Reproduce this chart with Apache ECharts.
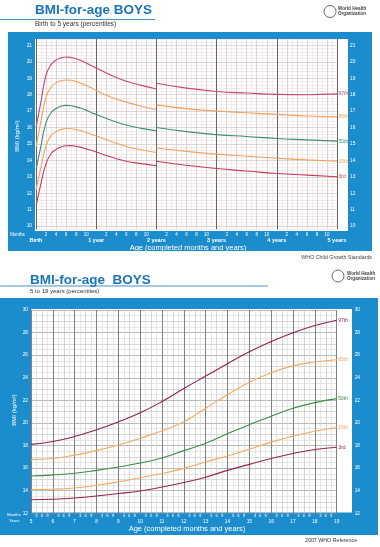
<!DOCTYPE html>
<html><head><meta charset="utf-8">
<script src="https://cdn.jsdelivr.net/npm/echarts@6/dist/echarts.min.js"></script>
<style>html,body{margin:0;padding:0;background:#fff}#c{width:380px;height:547px}</style>
</head><body><div id="c"></div>
<script>
// ---------- DATA: Birth to 5 years (months) ----------
const topMonthsLen = [0,1,2,3,4,5,6,7,8,9,10,11,12,15,18,21,24];
const topP3Len  = [11.2,12.6,13.8,14.4,14.67,14.82,14.89,14.9,14.86,14.79,14.7,14.61,14.51,14.2,13.95,13.8,13.67];
const topP15Len = [12.2,13.6,14.9,15.5,15.75,15.88,15.94,15.93,15.88,15.8,15.7,15.59,15.48,15.15,14.85,14.65,14.48];
const topP50Len = [13.4,14.9,16.3,16.9,17.16,17.3,17.35,17.33,17.26,17.17,17.05,16.92,16.8,16.45,16.15,15.95,15.8];
const topP85Len = [14.8,16.4,17.85,18.45,18.72,18.85,18.9,18.88,18.8,18.69,18.56,18.42,18.25,17.85,17.55,17.3,17.1];
const topP97Len = [16.0,17.6,19.2,19.83,20.11,20.25,20.3,20.27,20.19,20.07,19.93,19.78,19.63,19.18,18.82,18.57,18.35];

const topMonthsHt = [24,30,36,42,48,54,60];
const topP3Ht  = [13.95,13.7,13.5,13.35,13.2,13.1,13.0];
const topP15Ht = [14.75,14.55,14.38,14.25,14.13,14.03,13.95];
const topP50Ht = [16.0,15.75,15.57,15.45,15.33,15.25,15.17];
const topP85Ht = [17.38,17.15,17.0,16.9,16.8,16.7,16.65];
const topP97Ht = [18.7,18.4,18.2,18.1,18.02,18.0,18.05];

const topYearLabels = ['Birth','1 year','2 years','3 years','4 years','5 years'];

// ---------- DATA: 5 to 19 years ----------
const ages = [5,6,7,8,9,10,11,12,13,14,15,16,17,18,19];
const botP3  = [13.2,13.25,13.36,13.53,13.75,13.98,14.33,14.72,15.2,15.8,16.33,16.85,17.3,17.65,17.85];
const botP15 = [14.1,14.13,14.24,14.48,14.78,15.15,15.52,15.98,16.55,17.07,17.67,18.3,18.83,19.27,19.6];
const botP50 = [15.3,15.4,15.55,15.8,16.1,16.45,16.9,17.55,18.2,19.05,19.85,20.6,21.3,21.8,22.15];
const botP85 = [16.75,16.85,17.15,17.55,18.05,18.65,19.3,20.1,21.3,22.5,23.6,24.45,25.05,25.4,25.6];
const botP97 = [18.1,18.35,18.8,19.4,20.1,20.9,21.9,23.05,24.15,25.25,26.3,27.2,27.98,28.62,29.1];

const pctNames = ['3rd','15th','50th','85th','97th'];

// ---------- STYLE ----------
const BLUE = '#1c8dcc', TITLE = '#1b74bb';
const FONT = 'Liberation Sans, Arial, sans-serif';
const topColors = ['#c43c5a','#f2a25e','#3c9070','#f2a25e','#c8457c'];
const botColors = ['#9a2550','#f4aa62','#3b8b4a','#f4aa62','#8c2255'];

function pairs(xs, ys){ return xs.map((x,i)=>[x, ys[i]]); }
function mk(name, xs, ys, color, xi, yi, label){
  return {
    type:'line', name, xAxisIndex:xi, yAxisIndex:yi, data:pairs(xs,ys),
    smooth:0.5, showSymbol:false, symbol:'none',
    lineStyle:{color, width:1.1}, itemStyle:{color}, z:5, silent:true,
    endLabel:{show:!!label, formatter:name, color, fontSize:5, fontFamily:FONT, distance:1.5}
  };
}

const series = [];
const tLen = [topP3Len, topP15Len, topP50Len, topP85Len, topP97Len];
const tHt  = [topP3Ht, topP15Ht, topP50Ht, topP85Ht, topP97Ht];
const bot  = [botP3, botP15, botP50, botP85, botP97];
for (let k=0;k<5;k++){
  series.push(mk(pctNames[k], topMonthsLen, tLen[k], topColors[k], 0, 0, false));
  series.push(mk(pctNames[k], topMonthsHt, tHt[k], topColors[k], 0, 0, true));
  series.push(mk(pctNames[k], ages, bot[k], botColors[k], 1, 2, true));
}

const white = '#ffffff';
const isInt = v => Math.abs(v - Math.round(v)) < 0.01;

const option = {
  animation:false,
  backgroundColor:'#fff',
  textStyle:{fontFamily:FONT},
  grid:[
    {left:36, top:38.9, width:301, height:190.4},
    {left:31, top:310, width:305.7, height:203.3}
  ],
  xAxis:[
    { // 0 top months
      type:'value', gridIndex:0, min:0, max:60, interval:1,
      axisLine:{show:false}, axisTick:{show:false},
      splitLine:{show:true, lineStyle:{color:['#cbbcc0','#eddde1'], width:0.6}},
      axisLabel:{margin:2.5, color:white, fontSize:4.5, fontFamily:FONT,
        formatter:v=>{const m=Math.round(v)%12; return (m>0 && m%2===0)? String(m):'';}}
    },
    { // 1 bottom quarters
      type:'value', gridIndex:1, min:5, max:19, interval:0.25,
      axisLine:{show:false}, axisTick:{show:false},
      splitLine:{show:true, lineStyle:{color:['#8a8a8a','#d6d6d6','#c0c0c0','#d6d6d6'], width:0.6}},
      axisLabel:{margin:0.5, color:white, fontSize:4.2, fontFamily:FONT,
        formatter:v=>{const q=Math.round(v*4)%4; return q===1?'3':q===2?'6':q===3?'9':'';}}
    },
    { // 2 top years
      type:'value', gridIndex:0, min:0, max:60, interval:12, position:'bottom',
      axisLine:{show:false}, axisTick:{show:false},
      splitLine:{show:true, lineStyle:{color:'#666', width:1}},
      axisLabel:{margin:8, color:white, fontSize:5.5, fontWeight:'bold', fontFamily:FONT,
        formatter:v=>topYearLabels[Math.round(v/12)]||''}
    },
    { // 3 bottom years
      type:'value', gridIndex:1, min:5, max:19, interval:1, position:'bottom',
      axisLine:{show:false}, axisTick:{show:false},
      splitLine:{show:true, lineStyle:{color:'#7a7a7a', width:0.9}},
      axisLabel:{margin:5.5, color:white, fontSize:4.8, fontFamily:FONT,
        formatter:v=>String(Math.round(v))}
    }
  ],
  yAxis:[
    { // 0 top left
      type:'value', gridIndex:0, min:9.8, max:21.4, interval:0.2,
      axisLine:{show:false}, axisTick:{show:false},
      splitLine:{show:true, lineStyle:{color:['#eedfe2','#c8b8bc','#eedfe2','#eedfe2','#eedfe2'], width:0.6}},
      axisLabel:{margin:4, color:white, fontSize:4.8, fontFamily:FONT,
        formatter:v=> isInt(v)? String(Math.round(v)) : ''}
    },
    { // 1 top right
      type:'value', gridIndex:0, min:9.8, max:21.4, interval:0.2, position:'right',
      axisLine:{show:false}, axisTick:{show:false}, splitLine:{show:false},
      axisLabel:{margin:13, color:white, fontSize:4.8, fontFamily:FONT,
        formatter:v=> isInt(v)? String(Math.round(v)) : ''}
    },
    { // 2 bottom left
      type:'value', gridIndex:1, min:12, max:30, interval:0.5,
      axisLine:{show:false}, axisTick:{show:false},
      splitLine:{show:true, lineStyle:{color:['#8a8a8a','#d6d6d6','#c0c0c0','#d6d6d6'], width:0.6}},
      axisLabel:{margin:3, color:white, fontSize:4.8, fontFamily:FONT,
        formatter:v=> (isInt(v) && Math.round(v)%2===0)? String(Math.round(v)) : ''}
    },
    { // 3 bottom right
      type:'value', gridIndex:1, min:12, max:30, interval:2, position:'right',
      axisLine:{show:false}, axisTick:{show:false}, splitLine:{show:false},
      axisLabel:{margin:18, color:white, fontSize:4.8, fontFamily:FONT}
    }
  ],
  graphic:{elements:[
    // top panel
    {type:'rect', z:-10, silent:true, shape:{x:8,y:32,width:364,height:219}, style:{fill:BLUE}},
    {type:'rect', z:-9, silent:true, shape:{x:35,y:39,width:313,height:192}, style:{fill:'#fff'}},
    {type:'line', z:-9, silent:true, shape:{x1:0,y1:19.5,x2:155,y2:19.5}, style:{stroke:TITLE, lineWidth:0.8}},
    {type:'text', z:20, x:35, y:3.5, style:{text:'BMI-for-age BOYS', font:'bold 13.5px '+FONT, fill:TITLE}},
    {type:'text', z:20, x:35, y:21, style:{text:'Birth to 5 years (percentiles)', font:'6.5px '+FONT, fill:'#333'}},
    {type:'circle', z:20, shape:{cx:330,cy:11.5,r:6}, style:{fill:'#fff', stroke:'#666', lineWidth:1}},
    {type:'text', z:20, x:338, y:6.5, style:{text:'World Health\nOrganization', font:'bold 4.6px '+FONT, fill:'#444', lineHeight:5}},
    {type:'text', z:20, x:10, y:232, style:{text:'Months', font:'4.5px '+FONT, fill:'#fff'}},
    {type:'text', z:20, x:188, y:243.5, style:{text:'Age (completed months and years)', font:'7.5px '+FONT, fill:'#fff', textAlign:'center', align:'center'}},
    {type:'text', z:20, x:17, y:136, rotation:Math.PI/2, style:{text:'BMI (kg/m²)', font:'6px '+FONT, fill:'#fff', textAlign:'center', align:'center', textVerticalAlign:'middle', verticalAlign:'middle'}},
    {type:'text', z:20, x:372, y:255.5, style:{text:'WHO Child Growth Standards', font:'5.3px '+FONT, fill:'#444', textAlign:'right', align:'right'}},
    // bottom panel
    {type:'rect', z:-10, silent:true, shape:{x:0,y:298,width:378,height:237}, style:{fill:BLUE}},
    {type:'rect', z:-9, silent:true, shape:{x:31,y:309,width:321,height:203.5}, style:{fill:'#fff'}},
    {type:'line', z:-9, silent:true, shape:{x1:0,y1:286,x2:268,y2:286}, style:{stroke:TITLE, lineWidth:0.8}},
    {type:'text', z:20, x:30, y:273, style:{text:'BMI-for-age  BOYS', font:'bold 13.5px '+FONT, fill:TITLE}},
    {type:'text', z:20, x:30, y:288, style:{text:'5 to 19 years (percentiles)', font:'6px '+FONT, fill:'#333'}},
    {type:'circle', z:20, shape:{cx:338,cy:276,r:6}, style:{fill:'#fff', stroke:'#666', lineWidth:1}},
    {type:'text', z:20, x:347, y:271, style:{text:'World Health\nOrganization', font:'bold 4.6px '+FONT, fill:'#444', lineHeight:5}},
    {type:'text', z:20, x:7, y:513, style:{text:'Months', font:'4.2px '+FONT, fill:'#fff'}},
    {type:'text', z:20, x:9, y:518.5, style:{text:'Years', font:'4.2px '+FONT, fill:'#fff'}},
    {type:'text', z:20, x:187, y:524.5, style:{text:'Age (completed months and years)', font:'7.5px '+FONT, fill:'#fff', textAlign:'center', align:'center'}},
    {type:'text', z:20, x:14, y:410, rotation:Math.PI/2, style:{text:'BMI (kg/m²)', font:'6px '+FONT, fill:'#fff', textAlign:'center', align:'center', textVerticalAlign:'middle', verticalAlign:'middle'}},
    {type:'text', z:20, x:305, y:538, style:{text:'2007 WHO Reference', font:'5.3px '+FONT, fill:'#333'}}
  ]},
  series
};
const chart = echarts.init(document.getElementById('c'));
chart.setOption(option);
</script></body></html>
